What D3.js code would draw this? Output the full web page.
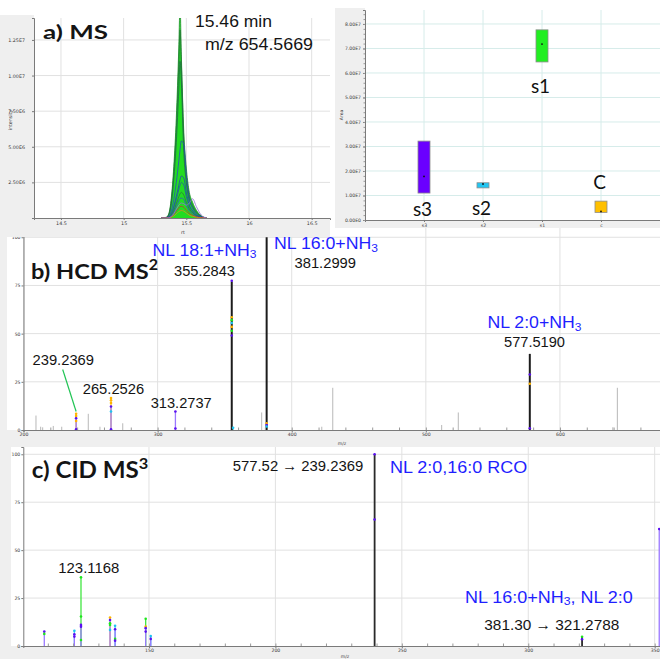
<!DOCTYPE html>
<html>
<head>
<meta charset="utf-8">
<script src="https://cdn.jsdelivr.net/npm/d3@7"></script>
<style>
  body { margin: 0; background: #fff; }
  svg { display: block; }
</style>
</head>
<body>
<svg id="fig" width="660" height="659"></svg>
<script>
// ---------------- data ----------------

// Extracted ion chromatogram, m/z 654.5669: retention time (min) and intensity (x10^6) per overlaid trace
const xicRt = [15.30, 15.34, 15.36, 15.38, 15.40, 15.42, 15.44, 15.45, 15.46, 15.48, 15.50, 15.52, 15.55, 15.58, 15.62, 15.66];
const xicTraces = [
  [0, 0.05, 0.30, 1.40, 3.60, 7.00, 12.0, 15.0, 11.5, 6.00, 3.50, 2.00, 1.10, 0.55, 0.15, 0],
  [0, 0.04, 0.25, 1.20, 3.20, 6.20, 10.8, 13.2, 11.0, 5.40, 3.00, 1.70, 0.90, 0.45, 0.12, 0],
  [0, 0.03, 0.20, 1.00, 2.70, 5.30, 9.00, 11.0, 9.60, 4.60, 2.50, 1.40, 0.75, 0.35, 0.10, 0],
  [0, 0.02, 0.12, 0.50, 1.30, 2.50, 4.00, 4.80, 5.40, 5.20, 3.00, 1.50, 0.70, 0.30, 0.08, 0],
  [0, 0.01, 0.06, 0.30, 0.80, 1.50, 2.30, 2.70, 2.95, 2.80, 1.80, 1.00, 0.50, 0.20, 0.05, 0],
  [0, 0.01, 0.05, 0.25, 0.70, 1.30, 2.00, 2.30, 2.50, 2.30, 1.50, 0.90, 0.45, 0.20, 0.05, 0],
  [0, 0.01, 0.04, 0.20, 0.50, 1.00, 1.50, 1.70, 1.80, 1.60, 1.10, 0.70, 0.35, 0.15, 0.03, 0],
  [0, 0.00, 0.03, 0.15, 0.40, 0.80, 1.20, 1.35, 1.40, 1.30, 0.90, 0.55, 0.30, 0.12, 0.03, 0],
  [0, 0.00, 0.02, 0.10, 0.25, 0.50, 0.70, 0.80, 0.82, 0.75, 0.55, 0.35, 0.18, 0.08, 0.02, 0],
  [0, 0.00, 0.01, 0.06, 0.15, 0.30, 0.45, 0.50, 0.52, 0.48, 0.35, 0.22, 0.12, 0.05, 0.01, 0],
  [0, 0.00, 0.02, 0.10, 0.30, 0.60, 0.90, 1.00, 1.05, 1.00, 0.90, 1.00, 1.35, 0.80, 0.20, 0]
];
const xicXTicks = [14.5, 15, 15.5, 16, 16.5];
const xicXTickLabels = ["14.5", "15", "15.5", "16", "16.5"];
const xicYTicks = [2.5, 5, 7.5, 10, 12.5];
const xicYTickLabels = ["2.50E6", "5.00E6", "7.50E6", "1.00E7", "1.25E7"];

// Peak area per sample group: box low / high and median
const groups = ["s3", "s2", "s1", "c"];
const groupNames = ["s3", "s2", "s1", "C"];
const areaLow = [1.10e7, 1.31e7, 6.45e7, 0.31e7];
const areaHigh = [3.22e7, 1.52e7, 7.76e7, 0.77e7];
const areaMedian = [1.78e7, 1.47e7, 7.18e7, 0.35e7];
const areaTicks = [0, 1e7, 2e7, 3e7, 4e7, 5e7, 6e7, 7e7, 8e7];
const areaTickLabels = ["0.00E0", "1.00E7", "2.00E7", "3.00E7", "4.00E7", "5.00E7", "6.00E7", "7.00E7", "8.00E7"];

// HCD MS2 spectrum (relative intensity, %)
const hcdMinorMz = [209.3, 212.8, 214.3, 222.2, 228.5, 248.3, 257.0, 274.0, 377.6, 422.4, 430.6, 511.8, 524.2, 639.4, 642.8];
const hcdMinorInt = [7.5, 1.7, 1.4, 2.1, 1.7, 8.4, 1.7, 3.5, 9.1, 1.7, 21.9, 2.6, 9.1, 1.4, 21.9];
const hcdMajorMz = [355.2843, 381.2999, 577.5190];
const hcdMajorInt = [77, 100, 39.5];
// per-sample readings: [m/z, intensity, sample index 0=s1 1=s2 2=s3 3=c]
const hcdSamples = [
  [239.2369, 8.4, 3], [239.2369, 7.3, 3], [239.2369, 6.1, 2], [239.2369, 4.7, 3], [239.2369, 0.4, 2],
  [265.2526, 16.6, 3], [265.2526, 15.4, 3], [265.2526, 14.0, 3], [265.2526, 12.2, 2], [265.2526, 9.6, 1], [265.2526, 0.4, 2],
  [313.2737, 9.6, 2], [313.2737, 0.8, 2],
  [355.2843, 77.4, 2], [355.2843, 58.5, 3], [355.2843, 57.0, 0], [355.2843, 55.5, 1], [355.2843, 53.5, 3], [355.2843, 51.5, 0], [355.2843, 49.0, 2],
  [356.3, 1.2, 1], [381.2999, 3.5, 3], [381.2999, 2.6, 2], [381.2999, 1.8, 1],
  [577.5190, 28.8, 2], [577.5190, 24.0, 3], [577.5190, 0.9, 2]
];
const hcdXTicks = [200, 300, 400, 500, 600];
const hcdYTicks = [0, 25, 50, 75, 100];

// CID MS3 spectrum of 577.52 -> 239.2369
const cidMajorMz = [239.2369, 321.2788];
const cidMajorInt = [100, 4.8];
const cidSamples = [
  [108.6, 7.5, 2], [108.6, 6.3, 0],
  [120.5, 7.9, 1], [120.5, 6.1, 2], [120.5, 4.9, 2],
  [123.1168, 35.8, 0], [123.1168, 15.4, 0], [123.1168, 11.0, 2], [123.1168, 10.1, 2], [123.1168, 3.1, 0],
  [134.6, 14.9, 3], [134.6, 13.6, 2], [134.6, 11.9, 0], [134.6, 11.0, 0], [134.6, 8.4, 1],
  [136.6, 10.5, 1], [136.6, 8.7, 2], [136.6, 3.7, 0], [136.6, 2.8, 2],
  [148.7, 14.2, 0], [148.7, 10.1, 3], [148.7, 9.3, 2], [148.7, 7.5, 2],
  [150.7, 5.2, 1], [150.7, 3.7, 2],
  [239.2369, 100, 2], [239.2369, 66, 2],
  [321.2788, 4.8, 0], [321.2788, 3.5, 2],
  [351.8, 61, 2]
];
const cidXTicks = [150, 200, 250, 300, 350];
const cidYTicks = [0, 25, 50, 75, 100];

// ---------------- styles ----------------
const svg = d3.select("#fig");
const bgGray = "#efefef";
const gridGray = "#e1e1e1";
const gridTeal = "#d6ecea";
const axisGray = "#7a7a7a";
const tickFont = "DejaVu Sans";
const blue = "#1f1fff";
const sampleDot = ["#1ee61e", "#1ec4f0", "#5a10f0", "#ffb400"];
const sampleLine = ["#40e640", "#50cdf0", "#9a78ff", "#ffc830"];
const xicStroke = ["#1d8a2a", "#26733a", "#1f6a46", "#2b48c0", "#2342b0", "#1f5ea0", "#2a7a3a", "#3050c8", "#c83030", "#e08a20", "#9070d8"];

function rect(x, y, w, h, fill) {
  svg.append("rect").attr("x", x).attr("y", y).attr("width", w).attr("height", h).attr("fill", fill);
}

function styleAxis(g, size) {
  g.select(".domain").attr("stroke", axisGray).attr("stroke-width", 1);
  g.selectAll(".tick line").attr("stroke", axisGray);
  g.selectAll(".tick text").attr("fill", "#3a3a3a").attr("font-size", size).attr("font-family", tickFont);
}

function smallText(x, y, str, size, rotate) {
  const t = svg.append("text").attr("x", x).attr("y", y).attr("font-size", size)
    .attr("font-family", tickFont).attr("fill", "#3a3a3a").attr("text-anchor", "middle").text(str);
  if (rotate) t.attr("transform", `rotate(-90,${x},${y})`);
}

// text made of normal / subscript / superscript runs
function richText(x, y, parts, o) {
  const size = o.size;
  const t = svg.append("text").attr("x", x).attr("y", y)
    .attr("font-size", size).attr("font-family", o.family || "Liberation Sans")
    .attr("font-weight", o.weight || "normal").attr("fill", o.color || "#141414");
  let shift = 0;
  parts.forEach(p => {
    const [str, kind] = Array.isArray(p) ? p : [p, ""];
    const target = kind === "sub" ? size * 0.16 : kind === "sup" ? -size * 0.4 : 0;
    t.append("tspan").attr("dy", target - shift).attr("font-size", kind ? size * 0.68 : size).text(str);
    shift = target;
  });
  if (o.width) t.attr("textLength", o.width).attr("lengthAdjust", "spacingAndGlyphs");
  return t;
}

function spectrumSticks(g, x, y, samples) {
  // one stick per m/z: coloured by its tallest reading, with the s3 trace drawn over it
  const byMz = d3.groups(samples, d => d[0]);
  byMz.forEach(([mz, rows]) => {
    const top = d3.greatest(rows, r => r[1]);
    g.append("line").attr("x1", x(mz)).attr("x2", x(mz)).attr("y1", y(0)).attr("y2", y(top[1]))
      .attr("stroke", sampleLine[top[2]]).attr("stroke-width", 1.3);
    const purple = rows.filter(r => r[2] === 2);
    if (purple.length && top[2] !== 2) {
      const pm = d3.max(purple, r => r[1]);
      g.append("line").attr("x1", x(mz)).attr("x2", x(mz)).attr("y1", y(0)).attr("y2", y(pm))
        .attr("stroke", sampleLine[2]).attr("stroke-width", 1.3);
    }
  });
}

function spectrumDots(g, x, y, samples) {
  g.selectAll(null).data(samples).join("circle")
    .attr("cx", d => x(d[0])).attr("cy", d => y(d[1])).attr("r", 1.3)
    .attr("fill", d => sampleDot[d[2]]);
}

// ================= panel b: HCD MS2 =================
{
  const x = d3.scaleLinear().domain([200, 674.6]).range([23.5, 660]);
  const y = d3.scaleLinear().domain([0, 104.8]).range([430, 228]);
  rect(0, 228, 7, 219, bgGray);
  rect(0, 430, 660, 17, bgGray);
  const g = svg.append("g");
  hcdXTicks.forEach(t => g.append("line").attr("x1", x(t)).attr("x2", x(t)).attr("y1", 228).attr("y2", 430).attr("stroke", gridGray));
  hcdYTicks.slice(1).forEach(t => g.append("line").attr("x1", 23.5).attr("x2", 660).attr("y1", y(t)).attr("y2", y(t)).attr("stroke", gridGray));

  g.selectAll(null).data(hcdMinorMz).join("line")
    .attr("x1", d => x(d)).attr("x2", d => x(d)).attr("y1", y(0))
    .attr("y2", (d, i) => y(hcdMinorInt[i])).attr("stroke", "#b8b8b8").attr("stroke-width", 1);
  spectrumSticks(g, x, y, hcdSamples.filter(r => !hcdMajorMz.includes(r[0])));
  g.selectAll(null).data(hcdMajorMz).join("line")
    .attr("x1", d => x(d)).attr("x2", d => x(d)).attr("y1", y(0))
    .attr("y2", (d, i) => y(hcdMajorInt[i])).attr("stroke", "#1c1c1c").attr("stroke-width", 2);
  spectrumDots(g, x, y, hcdSamples);

  const ax = svg.append("g").attr("transform", "translate(0,430)")
    .call(d3.axisBottom(x).tickValues(hcdXTicks).tickSize(2).tickPadding(1));
  styleAxis(ax, 4.6);
  const minor = svg.append("g").attr("transform", "translate(0,430)")
    .call(d3.axisBottom(x).tickValues(d3.range(220, 661, 20)).tickSize(-2.5).tickFormat(""));
  minor.select(".domain").remove();
  minor.selectAll("line").attr("stroke", "#999");
  const ay = svg.append("g").attr("transform", "translate(23.5,0)")
    .call(d3.axisLeft(y).tickValues(hcdYTicks).tickSize(2).tickPadding(1));
  styleAxis(ay, 4.6);
  smallText(342, 444.5, "m/z", 4.6);

  richText(31, 278.5, ["b) HCD MS", ["2", "sup"]], { size: 21, family: "Lato", weight: "bold", width: 127 });
  richText(152.5, 255.5, ["NL 18:1+NH", ["3", "sub"]], { size: 17, color: blue, width: 104 });
  richText(174, 275.5, ["355.2843"], { size: 15.5, width: 61 });
  richText(274, 249, ["NL 16:0+NH", ["3", "sub"]], { size: 17, color: blue, width: 104 });
  richText(294.5, 267.5, ["381.2999"], { size: 15.5, width: 61.5 });
  richText(487.5, 328, ["NL 2:0+NH", ["3", "sub"]], { size: 17, color: blue, width: 94 });
  richText(504, 346.5, ["577.5190"], { size: 15.5, width: 61 });
  richText(32.5, 365, ["239.2369"], { size: 15.5, width: 61.5 });
  richText(82.7, 394, ["265.2526"], { size: 15.5, width: 61.5 });
  richText(150.7, 408.3, ["313.2737"], { size: 15.5, width: 61 });
  svg.append("line").attr("x1", 62.7).attr("y1", 369.5).attr("x2", x(239.2369)).attr("y2", 411.5)
    .attr("stroke", "#22c455").attr("stroke-width", 1.2);
}

// ================= panel c: CID MS3 =================
{
  const x = d3.scaleLinear().domain([100.3, 352.1]).range([23.3, 660]);
  const y = d3.scaleLinear().domain([0, 103.8]).range([646, 447]);
  rect(0, 447, 11, 212, bgGray);
  rect(0, 646, 660, 13, bgGray);
  const g = svg.append("g");
  cidXTicks.forEach(t => g.append("line").attr("x1", x(t)).attr("x2", x(t)).attr("y1", 447).attr("y2", 646).attr("stroke", gridGray));
  cidYTicks.slice(1).forEach(t => g.append("line").attr("x1", 23.3).attr("x2", 660).attr("y1", y(t)).attr("y2", y(t)).attr("stroke", gridGray));

  spectrumSticks(g, x, y, cidSamples.filter(r => !cidMajorMz.includes(r[0])));
  g.selectAll(null).data(cidMajorMz).join("line")
    .attr("x1", d => x(d)).attr("x2", d => x(d)).attr("y1", y(0))
    .attr("y2", (d, i) => y(cidMajorInt[i])).attr("stroke", "#2a2a2a").attr("stroke-width", 1.8);
  spectrumDots(g, x, y, cidSamples);

  const ax = svg.append("g").attr("transform", "translate(0,646)")
    .call(d3.axisBottom(x).tickValues(cidXTicks).tickSize(2).tickPadding(1));
  styleAxis(ax, 4.6);
  const minor = svg.append("g").attr("transform", "translate(0,646)")
    .call(d3.axisBottom(x).tickValues(d3.range(110, 352, 10)).tickSize(-2.5).tickFormat(""));
  minor.select(".domain").remove();
  minor.selectAll("line").attr("stroke", "#999");
  const ay = svg.append("g").attr("transform", "translate(23.3,0)")
    .call(d3.axisLeft(y).tickValues(cidYTicks).tickSize(2).tickPadding(1));
  styleAxis(ay, 4.6);
  smallText(345, 658, "m/z", 4.6);

  richText(31.7, 477.7, ["c) CID MS", ["3", "sup"]], { size: 22, family: "Lato", weight: "bold", width: 116.7 });
  richText(232.7, 471, ["577.52 \u2192 239.2369"], { size: 15.5, width: 130.6 });
  richText(390, 472.7, ["NL 2:0,16:0 RCO"], { size: 17, color: blue, width: 137.3 });
  richText(58.3, 573.3, ["123.1168"], { size: 15.5, width: 61 });
  richText(465, 602.7, ["NL 16:0+NH", ["3", "sub"], ", NL 2:0"], { size: 17, color: blue, width: 167.7 });
  richText(484.3, 630, ["381.30 \u2192 321.2788"], { size: 15.5, width: 135 });
}

// ================= panel a (left): XIC =================
{
  const x = d3.scaleLinear().domain([14.285, 16.646]).range([34, 330]);
  const y = d3.scaleLinear().domain([0, 14.04]).range([218, 18]);
  rect(0, 15, 34, 222, bgGray);
  rect(0, 218, 330, 19, bgGray);
  rect(34, 18, 296, 200, "#fff");
  const g = svg.append("g");
  xicXTicks.forEach(t => g.append("line").attr("x1", x(t)).attr("x2", x(t)).attr("y1", 18).attr("y2", 218).attr("stroke", gridGray));
  xicYTicks.forEach(t => g.append("line").attr("x1", 34).attr("x2", 330).attr("y1", y(t)).attr("y2", y(t)).attr("stroke", gridGray));

  svg.append("clipPath").attr("id", "xicClip").append("rect").attr("x", 34).attr("y", 18).attr("width", 296).attr("height", 200);
  const plot = g.append("g").attr("clip-path", "url(#xicClip)");
  const area = d3.area().x((d, i) => x(xicRt[i])).y0(y(0)).y1(d => y(d)).curve(d3.curveMonotoneX);
  const line = d3.line().x((d, i) => x(xicRt[i])).y(d => y(d)).curve(d3.curveMonotoneX);
  plot.append("path").attr("d", area(xicTraces[0])).attr("fill", "#2de82d");
  plot.append("path").attr("d", area(xicTraces[1])).attr("fill", "#22dc22");
  xicTraces.forEach((tr, i) => {
    plot.append("path").attr("d", line(tr)).attr("fill", "none")
      .attr("stroke", xicStroke[i]).attr("stroke-width", 0.8);
  });

  const ax = svg.append("g").attr("transform", "translate(0,218)")
    .call(d3.axisBottom(x).tickValues(xicXTicks).tickSize(2).tickPadding(2).tickFormat((d, i) => xicXTickLabels[i]));
  styleAxis(ax, 4.8);
  const ay = svg.append("g").attr("transform", "translate(34,0)")
    .call(d3.axisLeft(y).tickValues(xicYTicks).tickSize(2).tickPadding(7).tickFormat((d, i) => xicYTickLabels[i]));
  styleAxis(ay, 4.8);
  smallText(183, 234, "rt", 4.8);
  smallText(11.5, 120, "intensity", 4.8, true);

  richText(43, 38.5, ["a) MS"], { size: 18, family: "Lato", weight: "bold", width: 65 });
  richText(195, 27, ["15.46 min"], { size: 16, width: 77 });
  richText(205, 50, ["m/z 654.5669"], { size: 16, width: 108 });
}

// ================= panel a (right): peak areas =================
{
  const x = d3.scalePoint().domain(groups).range([365, 660]).padding(1);
  const y = d3.scaleLinear().domain([0, 8.57e7]).range([220, 10]);
  rect(335, 8, 30, 220, bgGray);
  rect(335, 220, 325, 8, bgGray);
  rect(365, 10, 295, 210, "#fff");
  const g = svg.append("g");
  groups.forEach(c => g.append("line").attr("x1", x(c)).attr("x2", x(c)).attr("y1", 10).attr("y2", 220).attr("stroke", gridTeal));
  areaTicks.slice(1).forEach(t => g.append("line").attr("x1", 365).attr("x2", 660).attr("y1", y(t)).attr("y2", y(t)).attr("stroke", gridTeal));

  const boxFill = ["#6a00ff", "#22c6f2", "#22ee22", "#ffc000"];
  g.selectAll(null).data(groups).join("rect")
    .attr("x", d => x(d) - 6).attr("width", 12)
    .attr("y", (d, i) => y(areaHigh[i])).attr("height", (d, i) => y(areaLow[i]) - y(areaHigh[i]))
    .attr("fill", (d, i) => boxFill[i]).attr("stroke", "#8c8c8c").attr("stroke-width", 0.8);
  g.selectAll(null).data(groups).join("circle")
    .attr("cx", d => x(d)).attr("cy", (d, i) => y(areaMedian[i])).attr("r", 0.9).attr("fill", "#111");

  const ax = svg.append("g").attr("transform", "translate(0,220)")
    .call(d3.axisBottom(x).tickSize(2).tickPadding(2));
  styleAxis(ax, 4.6);
  const ay = svg.append("g").attr("transform", "translate(365,0)")
    .call(d3.axisLeft(y).tickValues(areaTicks).tickSize(2).tickPadding(2).tickFormat((d, i) => areaTickLabels[i]));
  styleAxis(ay, 4.6);
  const minor = svg.append("g").attr("transform", "translate(365,0)")
    .call(d3.axisLeft(y).tickValues(d3.range(0, 8.5e7, 2e6)).tickSize(1.5).tickFormat(""));
  minor.select(".domain").remove();
  minor.selectAll("line").attr("stroke", "#999");
  smallText(342.5, 115, "Area", 4.6, true);

  // group names beside their boxes (C sits above its box, the others below)
  const nameY = [216, 215, 93, 188.5];
  groupNames.forEach((n, i) => {
    svg.append("text").attr("x", x(groups[i]) - 1.5).attr("y", nameY[i]).attr("text-anchor", "middle")
      .attr("font-family", "Lato").attr("font-size", 19).attr("fill", "#111").text(n);
  });
}
</script>
</body>
</html>
